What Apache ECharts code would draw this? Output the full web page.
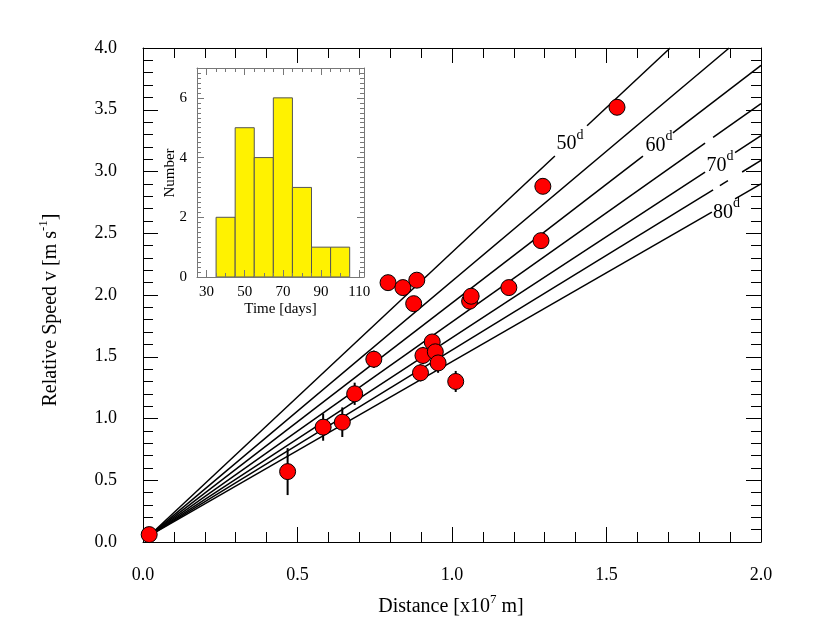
<!DOCTYPE html>
<html><head><meta charset="utf-8">
<script src="https://cdn.jsdelivr.net/npm/echarts@6/dist/echarts.min.js"></script>
<style>html,body{margin:0;padding:0;background:#fff}#c{width:830px;height:642px}</style>
</head><body><div id="c"></div>
<script>
// ---------- data ----------
const pointX   = [0.02, 0.468, 0.583, 0.645, 0.685, 0.747, 0.793, 0.841, 0.886, 0.876, 0.898, 0.906, 0.936, 0.946, 0.955, 1.012, 1.057, 1.062, 1.184, 1.288, 1.294, 1.534];
const pointV   = [0.06, 0.57, 0.93, 0.97, 1.20, 1.48, 2.10, 2.06, 2.12, 1.93, 1.37, 1.51, 1.62, 1.54, 1.45, 1.30, 1.95, 1.99, 2.06, 2.44, 2.88, 3.52];
const pointErr = [0.0, 0.19, 0.11, 0.12, 0.09, 0.07, 0.04, 0.04, 0.04, 0.04, 0.07, 0.07, 0.06, 0.06, 0.08, 0.085, 0.04, 0.04, 0.04, 0.05, 0.05, 0.04];

const lineDays = [50, 55, 60, 65, 70, 75, 80];
// visible pieces of each constant-time line, [x, v] ends
const lineSegments = [
  [[[0.02,0.05],[1.333,3.126]], [[1.437,3.370],[1.706,4.0]]],
  [[[0.02,0.05],[1.897,4.0]]],
  [[[0.02,0.05],[1.618,3.125]], [[1.715,3.312],[2.0,3.86]]],
  [[[0.02,0.05],[1.819,3.230]], [[1.845,3.276],[2.0,3.55]]],
  [[[0.02,0.05],[1.819,2.994]], [[1.916,3.153],[2.0,3.29]]],
  [[[0.02,0.05],[1.845,2.852]], [[1.867,2.886],[1.893,2.926]], [[1.939,2.996],[2.0,3.09]]],
  [[[0.02,0.05],[1.841,2.671]], [[1.916,2.779],[2.0,2.90]]]
];
const labelDays = [50, 60, 70, 80];
const labelX = [1.382, 1.670, 1.867, 1.888];
const labelV = [3.221, 3.209, 3.049, 2.670];

const binStart = [35, 45, 55, 65, 75, 85, 95];
const binEnd   = [45, 55, 65, 75, 85, 95, 105];
const binCount = [2, 5, 4, 6, 3, 1, 1];

const insetXLabels = [30, 50, 70, 90, 110];
const insetYLabels = [0, 2, 4, 6];

// ---------- chart ----------
const FONT = 'Liberation Serif';
const chart = echarts.init(document.getElementById('c'));

function mainAxis(pos, min, max, labels) {
  return {
    type: 'value', gridIndex: 0, position: pos, min: min, max: max, interval: 0.5,
    axisLine: { show: true, onZero: false, lineStyle: { color: '#000', width: 1 } },
    axisTick: { show: true, inside: true, length: 15, lineStyle: { color: '#000', width: 1 } },
    minorTick: { show: true, splitNumber: 5, length: 10, lineStyle: { color: '#000', width: 1 } },
    splitLine: { show: false }, minorSplitLine: { show: false },
    axisLabel: labels ? { show: true, margin: (pos === 'bottom' ? 24 : 26), fontFamily: FONT, fontSize: 18, color: '#000',
      formatter: v => v.toFixed(1) } : { show: false }
  };
}
const minorX = []; for (let v = 25; v <= 112.5; v += 5) minorX.push(v);
const minorY = []; for (let k = 0; k <= 42; k++) minorY.push(k / 6);
function insetAxis(dim, pos, ticks, len, labels, line) {
  return {
    type: 'value', gridIndex: 1, position: pos,
    min: dim === 'x' ? 25 : 0, max: dim === 'x' ? 112.5 : 7, z: 10,
    axisLine: { show: line, onZero: false, lineStyle: { color: '#777', width: 1 } },
    axisTick: { show: true, inside: true, length: len, customValues: ticks, lineStyle: { color: '#777', width: 1 } },
    splitLine: { show: false },
    axisLabel: labels ? { show: true, customValues: ticks, margin: dim === 'x' ? 8 : 10, fontFamily: FONT, fontSize: 15, color: '#000' } : { show: false }
  };
}

const series = [];
lineSegments.forEach((segs, i) => {
  segs.forEach(seg => {
    series.push({ type: 'line', name: lineDays[i] + 'd', xAxisIndex: 0, yAxisIndex: 0, data: seg,
      showSymbol: false, symbol: 'none', silent: true, z: 2,
      lineStyle: { color: '#000', width: 1.5 } });
  });
});
series.push({
  type: 'custom', xAxisIndex: 0, yAxisIndex: 0, z: 3, silent: true,
  data: pointX.map((x, i) => [x, pointV[i] - pointErr[i], pointV[i] + pointErr[i]]),
  encode: { x: 0, y: [1, 2] },
  renderItem: (params, api) => {
    const p1 = api.coord([api.value(0), api.value(1)]);
    const p2 = api.coord([api.value(0), api.value(2)]);
    return { type: 'line', shape: { x1: p1[0], y1: p1[1], x2: p2[0], y2: p2[1] }, style: { stroke: '#000', lineWidth: 2 } };
  }
});
series.push({
  type: 'scatter', xAxisIndex: 0, yAxisIndex: 0, z: 4, silent: true,
  data: pointX.map((x, i) => [x, pointV[i]]),
  symbol: 'circle', symbolSize: 16,
  itemStyle: { color: '#FF0000', borderColor: '#000', borderWidth: 1, opacity: 1 }
});
series.push({
  type: 'scatter', xAxisIndex: 0, yAxisIndex: 0, z: 5, silent: true,
  data: labelX.map((x, i) => [x, labelV[i], labelDays[i]]),
  symbolSize: 1, itemStyle: { color: 'rgba(0,0,0,0)' },
  label: { show: true, position: 'inside', opacity: 1,
    formatter: p => '{n|' + p.value[2] + '}{s|d}',
    rich: { n: { fontFamily: FONT, fontSize: 20, color: '#000' },
            s: { fontFamily: FONT, fontSize: 14, color: '#000', padding: [0, 0, 18, 0] } } }
});
series.push({
  type: 'custom', xAxisIndex: 2, yAxisIndex: 2, z: 3, silent: true,
  data: binStart.map((s, i) => [s, binEnd[i], binCount[i]]),
  encode: { x: [0, 1], y: 2 },
  renderItem: (params, api) => {
    const p0 = api.coord([api.value(0), api.value(2)]);
    const p1 = api.coord([api.value(1), 0]);
    return { type: 'rect', shape: { x: p0[0], y: p0[1], width: p1[0] - p0[0], height: p1[1] - p0[1] },
      style: { fill: '#FFF200', stroke: '#555', lineWidth: 1 } };
  }
});

const option = {
  animation: false,
  backgroundColor: '#fff',
  grid: [
    { left: 143, top: 48, width: 618, height: 494, containLabel: false },
    { left: 197, top: 68, width: 167, height: 209, show: true, backgroundColor: '#fff', borderWidth: 0 }
  ],
  xAxis: [
    mainAxis('bottom', 0, 2, true),
    mainAxis('top', 0, 2, false),
    insetAxis('x', 'bottom', insetXLabels, 7, true, true),
    insetAxis('x', 'bottom', minorX, 4, false, false),
    insetAxis('x', 'top', insetXLabels, 7, false, true),
    insetAxis('x', 'top', minorX, 4, false, false)
  ],
  yAxis: [
    mainAxis('left', 0, 4, true),
    mainAxis('right', 0, 4, false),
    insetAxis('y', 'left', insetYLabels, 7, true, true),
    insetAxis('y', 'left', minorY, 4, false, false),
    insetAxis('y', 'right', insetYLabels, 7, false, true),
    insetAxis('y', 'right', minorY, 4, false, false)
  ],
  series: series,
  graphic: [
    { type: 'text', x: 451, y: 607, z: 20,
      style: { text: '{a|Distance [x10}{s|7}{a| m]}', align: 'center', verticalAlign: 'middle', textAlign: 'center', textVerticalAlign: 'middle',
        rich: { a: { fontFamily: FONT, fontSize: 20, color: '#000' }, s: { fontFamily: FONT, fontSize: 13, color: '#000', padding: [0, 0, 14, 0] } } } },
    { type: 'text', x: 51, y: 310, rotation: Math.PI / 2, z: 20,
      style: { text: '{a|Relative Speed v [m s}{s|-1}{a|]}', align: 'center', verticalAlign: 'middle', textAlign: 'center', textVerticalAlign: 'middle',
        rich: { a: { fontFamily: FONT, fontSize: 20, color: '#000' }, s: { fontFamily: FONT, fontSize: 13, color: '#000', padding: [0, 0, 14, 0] } } } },
    { type: 'text', x: 280.5, y: 309, z: 20,
      style: { text: 'Time [days]', font: '15px "Liberation Serif"', fill: '#000', align: 'center', verticalAlign: 'middle', textAlign: 'center', textVerticalAlign: 'middle' } },
    { type: 'text', x: 170, y: 173, rotation: Math.PI / 2, z: 20,
      style: { text: 'Number', font: '15px "Liberation Serif"', fill: '#000', align: 'center', verticalAlign: 'middle', textAlign: 'center', textVerticalAlign: 'middle' } }
  ]
};
chart.setOption(option);
</script>
</body></html>
